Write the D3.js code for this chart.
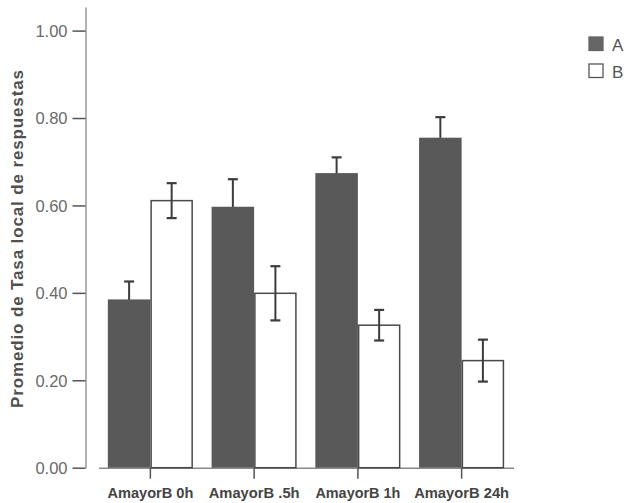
<!DOCTYPE html>
<html>
<head>
<meta charset="utf-8">
<script src="https://cdn.jsdelivr.net/npm/d3@7"></script>
<style>
  html, body { margin: 0; padding: 0; background: #fff; }
  svg { display: block; }
  text { font-family: "Liberation Sans", Arial, sans-serif; }
</style>
</head>
<body>
<svg id="chart" width="626" height="503"></svg>
<script>
const categories = ["AmayorB 0h", "AmayorB .5h", "AmayorB 1h", "AmayorB 24h"];
const categoryLabelWidths = [86, 91, 85, 95];
const seriesNames = ["A", "B"];
const valuesA = [0.385, 0.597, 0.674, 0.755];
const errorsA = [0.041, 0.063, 0.036, 0.047];
const valuesB = [0.611, 0.399, 0.326, 0.245];
const errorsB = [0.040, 0.062, 0.035, 0.048];
const yTicks = [0.0, 0.2, 0.4, 0.6, 0.8, 1.0];
const yTitle = "Promedio de Tasa local de respuestas";

const svg = d3.select("#chart");
const colorA = "#595959", strokeB = "#4a4a4a", errColor = "#3c3c3c";

const y = d3.scaleLinear().domain([0, 1.054]).range([467.7, 7]);
const x0 = d3.scaleBand().domain(categories).range([98.5, 513.5])
  .paddingInner(0.18).paddingOuter(0.09);
const x1 = d3.scaleBand().domain(seriesNames).range([0, x0.bandwidth()]).padding(0);

const rows = categories.map((c, i) => ({
  cat: c,
  A: valuesA[i], eA: errorsA[i],
  B: valuesB[i], eB: errorsB[i]
}));

// Y axis
const yAxis = d3.axisLeft(y).tickValues(yTicks).tickFormat(d3.format(".2f"))
  .tickSize(13).tickSizeOuter(0).tickPadding(5);
const gy = svg.append("g").attr("transform", "translate(85.5,0)").call(yAxis);
gy.select(".domain").attr("stroke", "#8a8a8a").attr("stroke-width", 1.3);
gy.selectAll(".tick line").attr("stroke", "#555").attr("stroke-width", 1.5);
gy.selectAll(".tick text").attr("fill", "#6a6a6a").style("font-size", "16.5px")
  .attr("dy", "0.36em");

// X axis
const xAxis = d3.axisBottom(x0).tickSize(11).tickSizeOuter(0).tickPadding(8);
const gx = svg.append("g").attr("transform", "translate(0,467.7)").call(xAxis);
gx.select(".domain").attr("stroke", "#8a8a8a").attr("stroke-width", 1.5);
gx.selectAll(".tick line").attr("stroke", "#555").attr("stroke-width", 1.5);
gx.selectAll(".tick text").attr("fill", "#444").style("font-size", "15.5px")
  .style("font-weight", "bold")
  .attr("textLength", (d, i) => categoryLabelWidths[i]).attr("lengthAdjust", "spacingAndGlyphs");

const groups = svg.append("g").selectAll("g").data(rows).join("g")
  .attr("transform", d => `translate(${x0(d.cat)},0)`);

function errBar(sel, key, ekey, color) {
  const cx = x1(key) + x1.bandwidth() / 2;
  const cap = 5;
  sel.append("line").attr("x1", cx).attr("x2", cx)
    .attr("y1", d => y(d[key] - d[ekey])).attr("y2", d => y(d[key] + d[ekey]))
    .attr("stroke", color).attr("stroke-width", 2);
  sel.append("line").attr("x1", cx - cap).attr("x2", cx + cap)
    .attr("y1", d => y(d[key] + d[ekey])).attr("y2", d => y(d[key] + d[ekey]))
    .attr("stroke", color).attr("stroke-width", 2.2);
  sel.append("line").attr("x1", cx - cap).attr("x2", cx + cap)
    .attr("y1", d => y(d[key] - d[ekey])).attr("y2", d => y(d[key] - d[ekey]))
    .attr("stroke", color).attr("stroke-width", 2.2);
}

// A error bars first, so the bar covers the lower half
errBar(groups, "A", "eA", errColor);
groups.append("rect")
  .attr("x", x1("A")).attr("width", x1.bandwidth())
  .attr("y", d => y(d.A)).attr("height", d => y(0) - y(d.A))
  .attr("fill", colorA);
groups.append("rect")
  .attr("x", x1("B") + 0.75).attr("width", x1.bandwidth() - 1.5)
  .attr("y", d => y(d.B)).attr("height", d => y(0) - y(d.B))
  .attr("fill", "#fff").attr("stroke", strokeB).attr("stroke-width", 1.5);
errBar(groups, "B", "eB", errColor);

// Y title
svg.append("text")
  .attr("transform", "translate(23,239) rotate(-90)")
  .attr("text-anchor", "middle")
  .attr("fill", "#505050")
  .style("font-size", "17px").style("font-weight", "bold")
  .attr("textLength", 338).attr("lengthAdjust", "spacing")
  .text(yTitle);

// Legend
const legend = svg.append("g");
const legendRows = [
  { name: seriesNames[0], fill: "#666", stroke: "#666", y: 37 },
  { name: seriesNames[1], fill: "#fff", stroke: "#555", y: 64 }
];
legend.selectAll("rect").data(legendRows).join("rect")
  .attr("x", 589).attr("y", d => d.y).attr("width", 14).attr("height", 13.5)
  .attr("fill", d => d.fill).attr("stroke", d => d.stroke).attr("stroke-width", 1.3);
legend.selectAll("text").data(legendRows).join("text")
  .attr("x", 612).attr("y", d => d.y + 13.5)
  .attr("fill", "#555").style("font-size", "17px")
  .text(d => d.name);
</script>
</body>
</html>
